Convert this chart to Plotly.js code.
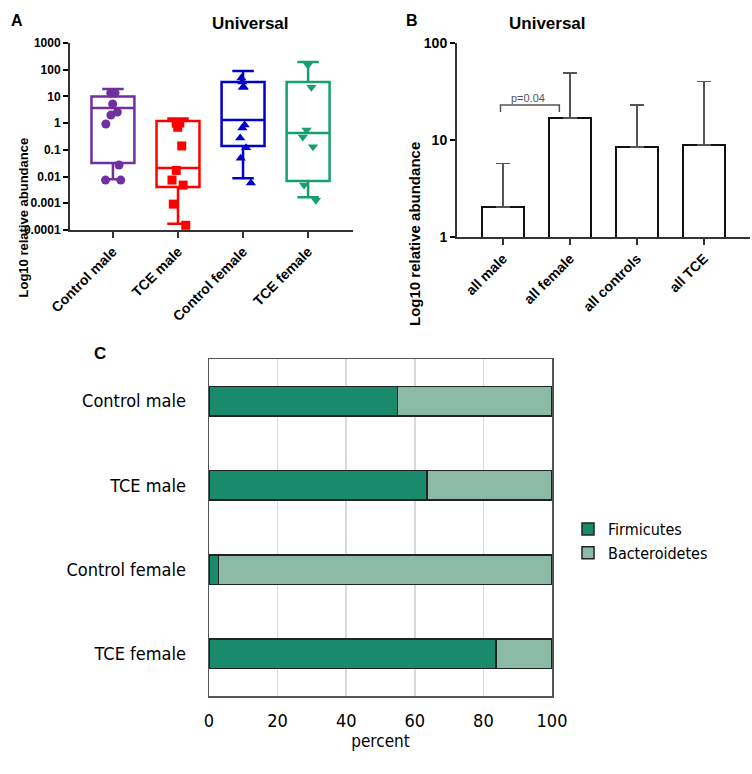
<!DOCTYPE html>
<html>
<head>
<meta charset="utf-8">
<script src="https://cdn.plot.ly/plotly-3.0.1.min.js"></script>
<style>
  body { margin: 0; background: #fff; }
  #root { width: 752px; height: 774px; }
</style>
</head>
<body>
<div id="root"></div>
<script>
// panel A - box plots
const groupsA = ['Control male', 'TCE male', 'Control female', 'TCE female'];
const colorsA = ['#7030A0', '#FF0000', '#0000C8', '#16A06C'];
const symbolsA = ['circle', 'square', 'triangle-up', 'triangle-down'];

const controlMale = [13.4, 13.4, 5.2, 2.6, 2.0, 0.93, 0.027, 0.0074, 0.0074];
const tceMale = [1.0, 0.7, 1.0, 0.14, 0.017, 0.0074, 0.0048, 0.00093, 0.00015];
const controlFemale = [35, 22, 22, 49, 0.85, 0.66, 0.28, 0.12, 0.049, 0.0058];
const tceFemale = [150, 22, 0.55, 0.30, 0.13, 0.0048, 0.0013];

const boxLow = [0.008, 0.00017, 0.0087, 0.0017];
const boxQ1 = [0.032, 0.0041, 0.14, 0.0068];
const boxMedian = [3.7, 0.021, 1.3, 0.43];
const boxQ3 = [10, 1.2, 35, 35];
const boxHigh = [19, 1.5, 90, 195];

const ticksA = [0.0001, 0.001, 0.01, 0.1, 1, 10, 100, 1000];
const tickTextA = ['0.0001', '0.001', '0.01', '0.1', '1', '10', '100', '1000'];

// panel B - means with upper SD
const groupsB = ['all male', 'all female', 'all controls', 'all TCE'];
const meanB = [2.04, 16.9, 8.5, 8.9];
const upperB = [5.7, 49, 23, 40];
const ticksB = [1, 10, 100];

// panel C - phyla percent
const groupsC = ['Control male', 'TCE male', 'Control female', 'TCE female'];
const firmicutes = [55, 63.6, 2.7, 83.7];
const bacteroidetes = [45, 36.4, 97.3, 16.3];

const bold = 'Liberation Sans, Arial, sans-serif';
const narrow = 'Liberation Sans Narrow, Arial Narrow, DejaVu Sans Condensed, sans-serif';

var data = [];
var pointSets = [controlMale, tceMale, controlFemale, tceFemale];

for (let i = 0; i < groupsA.length; i++) {
    data.push({
        type: 'box',
        x: [groupsA[i]],
        q1: [boxQ1[i]],
        median: [boxMedian[i]],
        q3: [boxQ3[i]],
        lowerfence: [boxLow[i]],
        upperfence: [boxHigh[i]],
        width: 0.66,
        whiskerwidth: 0.5,
        line: { color: colorsA[i], width: 2.5 },
        fillcolor: 'rgba(0,0,0,0)',
        xaxis: 'x', yaxis: 'y',
        showlegend: false,
        hoverinfo: 'skip'
    });
    data.push({
        type: 'box',
        x: pointSets[i].map(() => groupsA[i]),
        y: pointSets[i],
        boxpoints: 'all',
        jitter: 0.7,
        pointpos: 0,
        width: 0.66,
        line: { color: 'rgba(0,0,0,0)', width: 0 },
        fillcolor: 'rgba(0,0,0,0)',
        marker: { color: colorsA[i], symbol: symbolsA[i], size: 9 },
        xaxis: 'x', yaxis: 'y',
        showlegend: false
    });
}

// panel B
data.push({
    type: 'bar',
    x: groupsB,
    y: meanB,
    width: 0.63,
    marker: { color: '#fff', line: { color: '#111', width: 2.5 } },
    error_y: {
        type: 'data',
        symmetric: false,
        array: upperB.map((u, i) => u - meanB[i]),
        arrayminus: meanB.map(() => 0),
        color: '#555',
        thickness: 1.5,
        width: 7
    },
    xaxis: 'x2', yaxis: 'y2',
    showlegend: false
});

// panel C
data.push({
    type: 'bar', orientation: 'h',
    name: 'Firmicutes',
    y: groupsC, x: firmicutes,
    width: 0.35,
    marker: { color: '#1A8A6C', line: { color: '#222', width: 1.5 } },
    xaxis: 'x3', yaxis: 'y3'
});
data.push({
    type: 'bar', orientation: 'h',
    name: 'Bacteroidetes',
    y: groupsC, x: bacteroidetes,
    width: 0.35,
    marker: { color: '#8BBAA6', line: { color: '#222', width: 1.5 } },
    xaxis: 'x3', yaxis: 'y3'
});

var layout = {
    width: 752,
    height: 774,
    margin: { l: 0, r: 0, t: 0, b: 0 },
    paper_bgcolor: '#fff',
    plot_bgcolor: 'rgba(0,0,0,0)',
    boxmode: 'overlay',
    barmode: 'stack',
    font: { family: bold, color: '#000' },
    xaxis: {
        domain: [70 / 752, 353 / 752],
        anchor: 'y',
        type: 'category',
        range: [-0.66, 3.69],
        showline: true, linecolor: '#333', linewidth: 2,
        ticks: 'outside', ticklen: 6, tickwidth: 2, tickcolor: '#333',
        tickangle: -45,
        tickfont: { family: bold, size: 14, weight: 'bold' },
        showgrid: false, zeroline: false
    },
    yaxis: {
        domain: [1 - 230 / 774, 1 - 43 / 774],
        anchor: 'x',
        type: 'log',
        range: [-4, 3],
        tickvals: ticksA,
        ticktext: tickTextA,
        showline: true, linecolor: '#333', linewidth: 2,
        ticks: 'outside', ticklen: 5, tickwidth: 2, tickcolor: '#000',
        tickfont: { family: bold, size: 12, weight: 'bold' },
        showgrid: false, zeroline: false
    },
    xaxis2: {
        domain: [457 / 752, 750 / 752],
        anchor: 'y2',
        type: 'category',
        range: [-0.69, 3.69],
        showline: true, linecolor: '#333', linewidth: 2,
        ticks: 'outside', ticklen: 6, tickwidth: 2, tickcolor: '#333',
        tickangle: -45,
        tickfont: { family: bold, size: 14, weight: 'bold' },
        showgrid: false, zeroline: false
    },
    yaxis2: {
        domain: [1 - 237 / 774, 1 - 43 / 774],
        anchor: 'x2',
        type: 'log',
        range: [0, 2],
        tickvals: ticksB,
        ticktext: ticksB.map(String),
        showline: true, linecolor: '#333', linewidth: 2,
        ticks: 'outside', ticklen: 5, tickwidth: 2, tickcolor: '#000',
        tickfont: { family: bold, size: 14, weight: 'bold' },
        showgrid: false, zeroline: false
    },
    xaxis3: {
        domain: [209 / 752, 552 / 752],
        anchor: 'y3',
        range: [0, 100],
        dtick: 20,
        showgrid: true, gridcolor: '#d9d9d9', gridwidth: 1.5,
        showline: true, mirror: true, linecolor: '#555', linewidth: 1.5,
        ticks: '', ticklabelstandoff: 8,
        tickfont: { family: narrow, size: 18 },
        zeroline: false,
        title: { text: 'percent', font: { family: narrow, size: 17 }, standoff: 0 }
    },
    yaxis3: {
        domain: [1 - 696 / 774, 1 - 359 / 774],
        anchor: 'x3',
        type: 'category',
        categoryarray: groupsC,
        range: [3.5, -0.5],
        showline: true, mirror: true, linecolor: '#555', linewidth: 1.5,
        ticks: '', ticklabelstandoff: 18,
        tickfont: { family: narrow, size: 18 },
        showgrid: false, zeroline: false
    },
    legend: {
        x: 568 / 752, y: 1 - 512 / 774,
        xanchor: 'left', yanchor: 'top',
        traceorder: 'normal',
        font: { family: narrow, size: 16 },
        tracegroupgap: 0,
        bgcolor: 'rgba(0,0,0,0)'
    },
    shapes: [
        {
            type: 'path',
            xref: 'x2', yref: 'y2 domain',
            path: 'M -0.04,0.644 L -0.04,0.68 L 0.84,0.68 L 0.84,0.644',
            line: { color: '#555', width: 1.5 }
        }
    ],
    annotations: [
        { text: 'A', x: 9 / 752, y: 1 - 10 / 774, xref: 'paper', yref: 'paper',
          showarrow: false, font: { size: 16, weight: 'bold' } },
        { text: 'Universal', x: 210 / 752, y: 1 - 12 / 774, xref: 'paper', yref: 'paper',
          showarrow: false, font: { size: 17, weight: 'bold' } },
        { text: 'B', x: 412 / 752, y: 1 - 10 / 774, xref: 'paper', yref: 'paper',
          showarrow: false, font: { size: 16, weight: 'bold' } },
        { text: 'Universal', x: 588 / 752, y: 1 - 12 / 774, xref: 'paper', yref: 'paper',
          showarrow: false, font: { size: 17, weight: 'bold' } },
        { text: 'C', x: 92 / 752, y: 1 - 353 / 774, xref: 'paper', yref: 'paper',
          showarrow: false, font: { size: 17, weight: 'bold' } },
        { text: 'Log10 relative abundance', textangle: -90,
          x: 13 / 752, y: 1 - 136 / 774, xref: 'paper', yref: 'paper',
          showarrow: false, font: { size: 13, weight: 'bold' } },
        { text: 'Log10 relative abundance', textangle: -90,
          x: 415 / 752, y: 1 - 140 / 774, xref: 'paper', yref: 'paper',
          showarrow: false, font: { size: 15, weight: 'bold' } },
        { text: 'p=0.04', x: 0.37, y: 0.76, xref: 'x2', yref: 'y2 domain',
          showarrow: false, font: { size: 11, color: '#555' } }
    ]
};

Plotly.newPlot('root', data, layout, { staticPlot: true });
</script>
</body>
</html>
